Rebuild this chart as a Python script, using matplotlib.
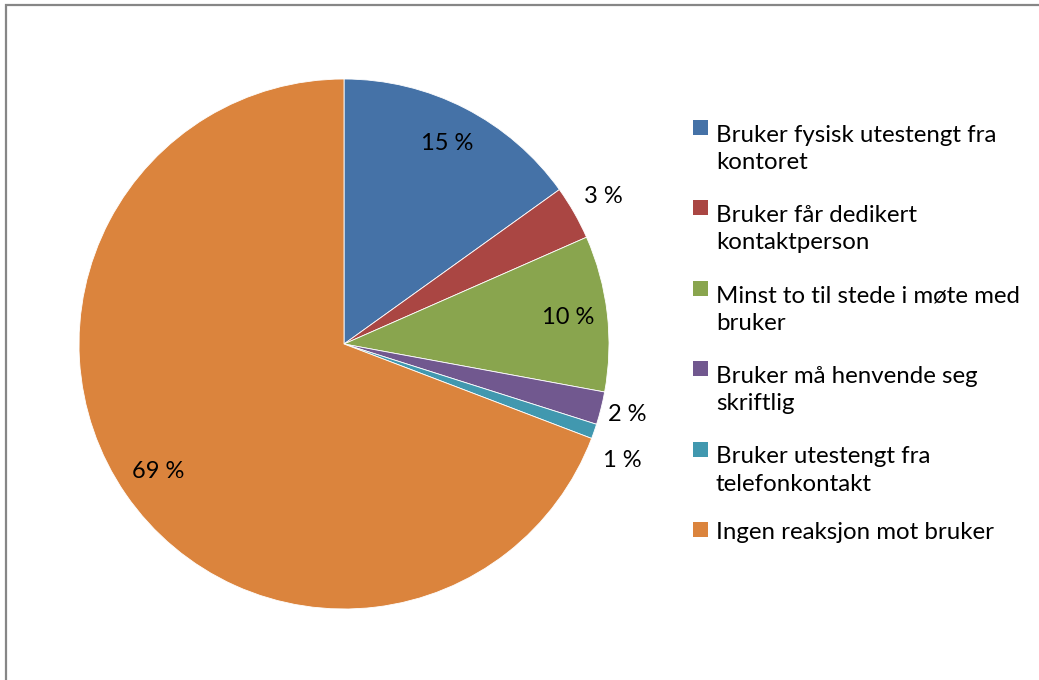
import matplotlib
matplotlib.use("Agg")
import matplotlib.pyplot as plt
from matplotlib.patches import Rectangle
import numpy as np

labels = ["Bruker fysisk utestengt fra\nkontoret",
          "Bruker får dedikert\nkontaktperson",
          "Minst to til stede i møte med\nbruker",
          "Bruker må henvende seg\nskriftlig",
          "Bruker utestengt fra\ntelefonkontakt",
          "Ingen reaksjon mot bruker"]
values = [15.1, 3.3, 9.5, 2.0, 0.9, 69.2]
pct_text = ["15 %", "3 %", "10 %", "2 %", "1 %", "69 %"]
colors = ["#4572A7", "#AA4643", "#89A54E", "#71588F", "#4198AF", "#DB843D"]

# label placement: distance from centre (in radii) and angle nudge (deg)
label_dist = [0.85, 1.125, 0.85, 1.10, 1.14, 0.85]
label_nudge = [0, 0, 0, 0, -3.4, 0]

plt.rcParams['font.family'] = ['Lato', 'DejaVu Sans']

W, H = 1039, 680
fig = plt.figure(figsize=(W / 100, H / 100), dpi=100)

# chart border
fig.patches.append(Rectangle((6 / W, -0.05), 1.1, 1 - 5 / H + 0.05, transform=fig.transFigure,
                             fill=False, edgecolor="#868686", linewidth=1.6))

cx, cy, r = 344, 344, 265
ax = fig.add_axes([(cx - r) / W, (H - cy - r) / H, 2 * r / W, 2 * r / H])
wedges, _ = ax.pie(values, colors=colors, startangle=90, counterclock=False,
                   wedgeprops=dict(linewidth=0.6, edgecolor="white"))
ax.set_xlim(-1, 1)
ax.set_ylim(-1, 1)
ax.set_aspect("equal")

for w, txt, d, nud in zip(wedges, pct_text, label_dist, label_nudge):
    ang = np.deg2rad((w.theta1 + w.theta2) / 2 + nud)
    ax.text(d * np.cos(ang), d * np.sin(ang), txt, ha="center", va="center",
            fontsize=17, clip_on=False)

# legend, drawn by hand so the square sits on the first line
base0 = 137
step = 80.4
line_h = 32
for i, (lab, col) in enumerate(zip(labels, colors)):
    yb = base0 + i * step
    fig.patches.append(Rectangle((693 / W, (H - yb + 2) / H), 15 / W, 15 / H,
                                 transform=fig.transFigure, facecolor=col, edgecolor="none"))
    ylast = yb + lab.count("\n") * line_h
    fig.text(716 / W, (H - ylast) / H, lab, ha="left", va="baseline", fontsize=17.3,
             linespacing=1.36, transform=fig.transFigure)

fig.savefig("out.png", dpi=100)
